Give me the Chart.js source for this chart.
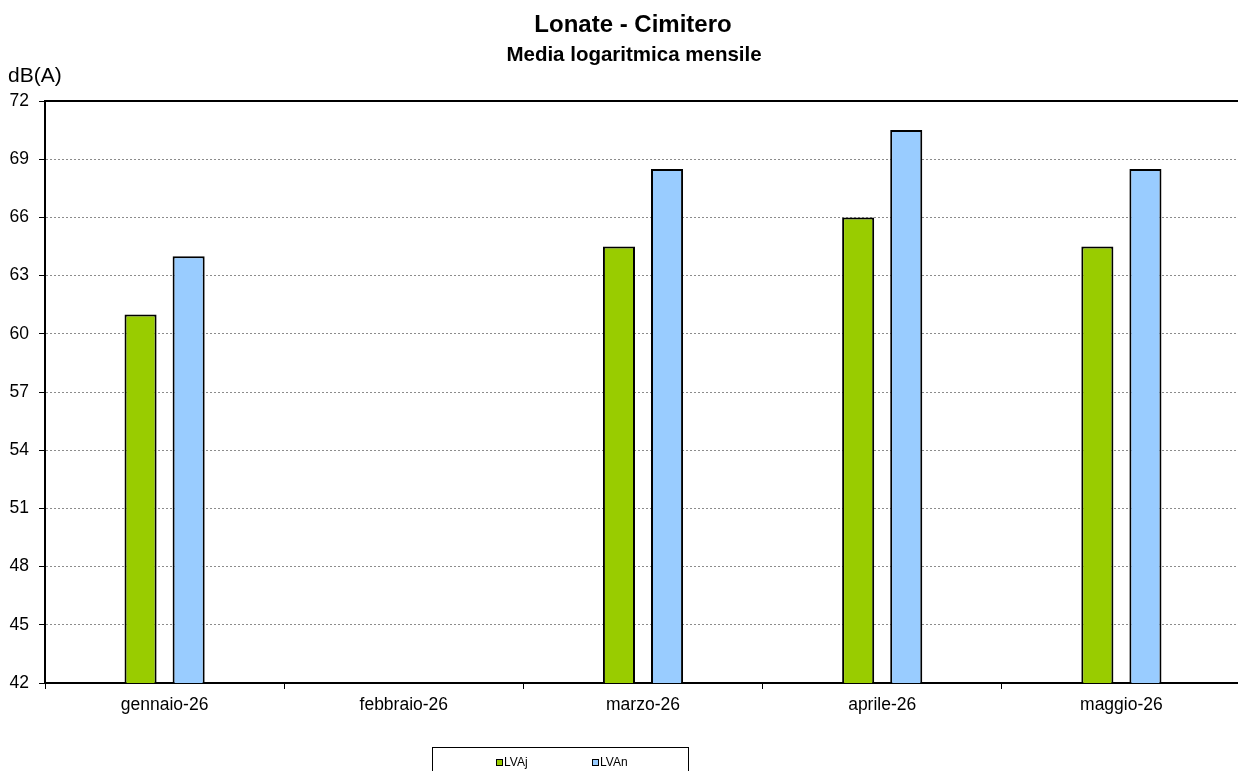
<!DOCTYPE html>
<html>
<head>
<meta charset="utf-8">
<script src="https://cdn.jsdelivr.net/npm/chart.js@4/dist/chart.umd.min.js"></script>
<style>
  html, body { margin: 0; padding: 0; background: #fff; overflow: hidden; }
  #wrap { width: 1242px; height: 771px; }
</style>
</head>
<body>
<div id="wrap"><canvas id="chart" width="1242" height="771"></canvas></div>
<script>
const months = ['gennaio-26', 'febbraio-26', 'marzo-26', 'aprile-26', 'maggio-26'];
const lvaj = [61, null, 64.5, 66, 64.5];
const lvan = [64, null, 68.5, 70.5, 68.5];
const yMin = 42, yMax = 72, yStep = 3;
const FONT = '"Liberation Sans", Arial, sans-serif';

// titles, unit label, top border and boxed legend
const decor = {
    id: 'decor',
    afterDraw(chart) {
        const c = chart.ctx, a = chart.chartArea;
        c.save();
        c.fillStyle = '#000';
        c.textAlign = 'center';
        c.textBaseline = 'alphabetic';
        c.font = 'bold 24px ' + FONT;
        c.fillText('Lonate - Cimitero', 633, 32);
        c.font = 'bold 20.5px ' + FONT;
        c.fillText('Media logaritmica mensile', 634, 61);
        c.textAlign = 'left';
        c.font = '21px ' + FONT;
        c.fillText('dB(A)', 8, 82);

        c.strokeStyle = '#000';
        c.lineWidth = 2;
        c.beginPath();
        c.moveTo(a.left, a.top);
        c.lineTo(a.right, a.top);
        c.stroke();

        // legend box
        c.lineWidth = 1;
        c.strokeRect(432.5, 747.5, 256, 40);
        c.font = '12px ' + FONT;
        const xs = [496, 592];
        chart.data.datasets.forEach((ds, i) => {
            c.fillStyle = ds.backgroundColor;
            c.fillRect(xs[i], 759, 6, 6);
            c.strokeRect(xs[i] + 0.5, 759.5, 6, 6);
            c.fillStyle = '#000';
            c.fillText(ds.label, xs[i] + 8, 766);
        });
        c.restore();
    }
};

new Chart(document.getElementById('chart'), {
    type: 'bar',
    data: {
        labels: months,
        datasets: [
            { label: 'LVAj', data: lvaj, backgroundColor: '#99CC00', borderColor: '#000', borderWidth: 2 },
            { label: 'LVAn', data: lvan, backgroundColor: '#99CCFF', borderColor: '#000', borderWidth: 2 }
        ]
    },
    options: {
        responsive: false,
        animation: false,
        categoryPercentage: 0.402,
        barPercentage: 0.667,
        layout: { padding: { top: 101, right: 1, bottom: 48, left: 0 } },
        plugins: {
            legend: { display: false },
            title: { display: false },
            tooltip: { enabled: false }
        },
        scales: {
            x: {
                offset: true,
                grid: { offset: true, drawOnChartArea: false, color: '#000', tickLength: 6 },
                border: { color: '#000', width: 2 },
                ticks: { color: '#000', font: { family: FONT, size: 17.5 }, padding: 6, maxRotation: 0 },
                afterFit: s => { s.height = 40; }
            },
            y: {
                min: yMin,
                max: yMax,
                grid: { color: '#8c8c8c', tickColor: '#000', tickBorderDash: [], tickLength: 6 },
                border: { color: '#000', width: 2, dash: [2, 2] },
                ticks: { stepSize: yStep, color: '#000', font: { family: FONT, size: 17.5 }, padding: 10 },
                afterFit: s => { s.width = 45; }
            }
        }
    },
    plugins: [decor]
});
</script>
</body>
</html>
